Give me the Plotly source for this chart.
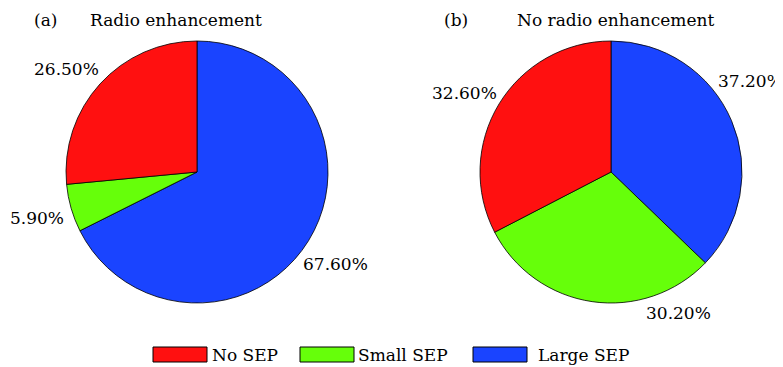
import math
import plotly.graph_objects as go

categories = ["Large SEP", "Small SEP", "No SEP"]
radio_values = [67.6, 5.9, 26.5]
no_radio_values = [37.2, 30.2, 32.6]
colors = ["#1A44FF", "#66FF0A", "#FF1010"]
panel_titles = ["(a)", "(b)"]
panel_names = ["Radio enhancement", "No radio enhancement"]
legend_order = ["No SEP", "Small SEP", "Large SEP"]

FONT = "DejaVu Serif"
FS = 17
W, H = 783, 367
OFF = 8  # page body margin


def px(x):
    return (x - OFF) / W


def py(y):
    return 1 - (y - OFF) / H


fig = go.Figure()
centers = [(197, 172), (611, 172)]
R = 131
# label distance from centre (px) and small angular nudges (degrees), per panel
label_r = [[166, 166, 166], [166, 156, 166]]
label_nudge = [[2, 0, -4], [-10, -34, -3]]

for i, vals in enumerate([radio_values, no_radio_values]):
    cx, cy = centers[i]
    fig.add_trace(go.Pie(
        labels=categories, values=vals, sort=False, direction="clockwise",
        rotation=0,
        marker=dict(colors=colors, line=dict(color="black", width=0.8)),
        textinfo="none",
        showlegend=False, hoverinfo="label+percent",
        domain=dict(x=[px(cx - R), px(cx + R)], y=[py(cy + R), py(cy - R)]),
    ))
    total = sum(vals)
    cum = 0.0
    for j, v in enumerate(vals):
        mid = (cum + v / 2) / total * 360 + label_nudge[i][j]
        cum += v
        a = math.radians(mid)
        lx = cx + label_r[i][j] * math.sin(a)
        ly = cy - label_r[i][j] * math.cos(a)
        fig.add_annotation(x=px(lx), y=py(ly), xref="paper", yref="paper",
                           text=f"{v:.2f}%", showarrow=False,
                           xanchor="center", yanchor="middle",
                           font=dict(family=FONT, size=FS, color="black"))

# panel titles
title_pos = [(32, 88), (442, 515)]
for i in range(2):
    fig.add_annotation(x=px(title_pos[i][0]), y=py(20), xref="paper", yref="paper",
                       text=panel_titles[i], showarrow=False, xanchor="left",
                       yanchor="middle",
                       font=dict(family=FONT, size=FS, color="black"))
    fig.add_annotation(x=px(title_pos[i][1]), y=py(20), xref="paper", yref="paper",
                       text=panel_names[i], showarrow=False, xanchor="left",
                       yanchor="middle",
                       font=dict(family=FONT, size=FS, color="black"))

# custom legend
leg_x = [153, 300, 473]
leg_text_x = [210, 356, 536]
for name, x0, tx in zip(legend_order, leg_x, leg_text_x):
    c = colors[categories.index(name)]
    fig.add_shape(type="rect", xref="paper", yref="paper",
                  x0=px(x0), x1=px(x0 + 54), y0=py(362), y1=py(347),
                  fillcolor=c, line=dict(color="black", width=1))
    fig.add_annotation(x=px(tx), y=py(355), xref="paper", yref="paper",
                       text=name, showarrow=False, xanchor="left",
                       yanchor="middle",
                       font=dict(family=FONT, size=FS, color="black"))

fig.update_layout(width=W, height=H, showlegend=False,
                  margin=dict(l=0, r=0, t=0, b=0, pad=0, autoexpand=False),
                  paper_bgcolor="white", plot_bgcolor="white")
fig.write_html("out.html")
